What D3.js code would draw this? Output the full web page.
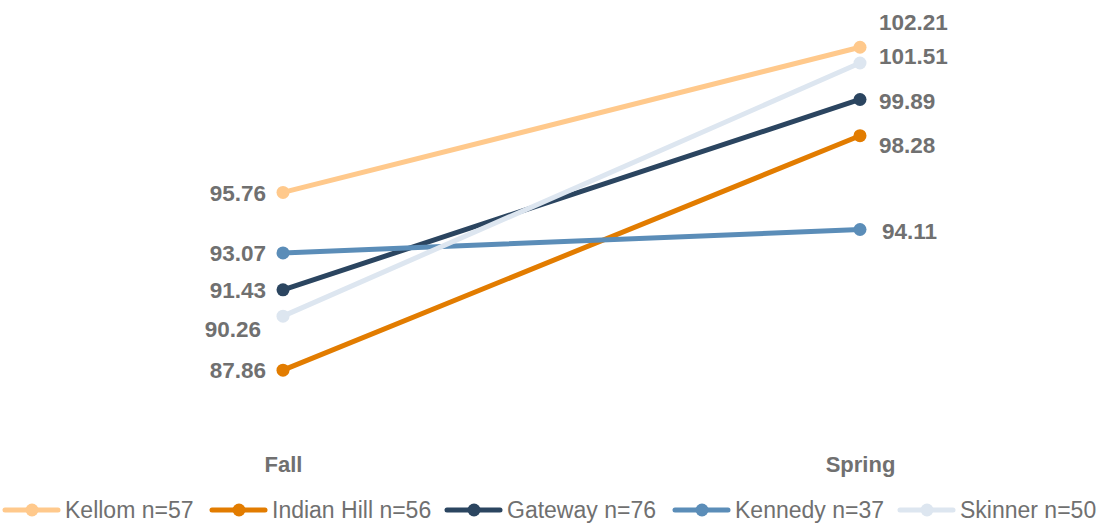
<!DOCTYPE html>
<html>
<head>
<meta charset="utf-8">
<script src="https://cdn.jsdelivr.net/npm/d3@7"></script>
<style>
  html, body { margin: 0; padding: 0; background: #fff; }
  svg { display: block; font-family: "Liberation Sans", Arial, sans-serif; }
</style>
</head>
<body>
<svg id="chart" width="1102" height="523"></svg>
<script>
// Terms on the x axis
const terms = ["Fall", "Spring"];

// School names with sample sizes (legend order = drawing order)
const schools = ["Kellom n=57", "Indian Hill n=56", "Gateway n=76", "Kennedy n=37", "Skinner n=50"];

// Mean scores per school, Fall then Spring
const kellom = [95.76, 102.21];
const indianHill = [87.86, 98.28];
const gateway = [91.43, 99.89];
const kennedy = [93.07, 94.11];
const skinner = [90.26, 101.51];

const colors = ["#ffc98c", "#e27c00", "#2b4560", "#5b8db8", "#dde6f0"];

const seriesValues = [kellom, indianHill, gateway, kennedy, skinner];

// Label nudges (dx, dy) for each school at each term, so overlapping labels stay readable
const labelNudge = [
  [[0, 0], [0, -25]],
  [[0, 0], [0, 9]],
  [[0, 0], [0, 1]],
  [[0, 0], [3, 1]],
  [[-5, 13], [0, -7]]
];

const svg = d3.select("#chart");
const textColor = "#707070";

const x = d3.scalePoint().domain(terms).range([283, 860]);
const y = d3.scaleLinear().domain([86, 104]).range([412, 7]);

const series = schools.map((name, i) => ({
  name,
  color: colors[i],
  values: terms.map((t, j) => ({ term: t, value: seriesValues[i][j], nudge: labelNudge[i][j] }))
}));

const line = d3.line().x(d => x(d.term)).y(d => y(d.value));

const g = svg.append("g");

series.forEach(s => {
  const sg = g.append("g");
  sg.append("path")
    .datum(s.values)
    .attr("d", line)
    .attr("fill", "none")
    .attr("stroke", s.color)
    .attr("stroke-width", 5)
    .attr("stroke-linecap", "round");
  sg.selectAll("circle")
    .data(s.values)
    .join("circle")
    .attr("cx", d => x(d.term))
    .attr("cy", d => y(d.value))
    .attr("r", 6.5)
    .attr("fill", s.color);
});

// Value labels: left of Fall points, right of Spring points
series.forEach(s => {
  g.selectAll(null)
    .data(s.values)
    .join("text")
    .attr("x", d => x(d.term) + (d.term === "Fall" ? -17 : 19) + d.nudge[0])
    .attr("y", d => y(d.value) + d.nudge[1])
    .attr("dy", "0.36em")
    .attr("text-anchor", d => d.term === "Fall" ? "end" : "start")
    .attr("font-size", 22.5)
    .attr("font-weight", "bold")
    .attr("fill", textColor)
    .text(d => d.value.toFixed(2));
});

// Category axis (labels only)
const xAxis = d3.axisBottom(x).tickSize(0).tickPadding(0);
const ag = svg.append("g").attr("transform", "translate(0,456)").call(xAxis);
ag.select(".domain").remove();
ag.selectAll("text")
  .attr("font-size", 22)
  .attr("font-weight", "bold")
  .attr("fill", textColor)
  .attr("font-family", "'Liberation Sans', Arial, sans-serif");

// Legend
const legendX = [5, 212, 447, 675, 900];
const lg = svg.append("g").attr("transform", "translate(0,510)");
series.forEach((s, i) => {
  const item = lg.append("g").attr("transform", `translate(${legendX[i]},0)`);
  item.append("line")
    .attr("x1", 0).attr("x2", 53)
    .attr("stroke", s.color)
    .attr("stroke-width", 5)
    .attr("stroke-linecap", "round");
  item.append("circle").attr("cx", 27).attr("r", 6.5).attr("fill", s.color);
  item.append("text")
    .attr("x", 60)
    .attr("dy", "0.36em")
    .attr("font-size", 23)
    .attr("fill", textColor)
    .text(s.name);
});
</script>
</body>
</html>
